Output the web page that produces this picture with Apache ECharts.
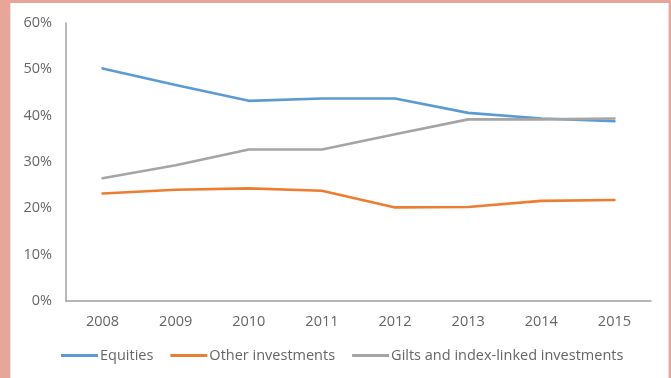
<!DOCTYPE html>
<html>
<head>
<meta charset="utf-8">
<script src="https://cdn.jsdelivr.net/npm/echarts@6/dist/echarts.min.js"></script>
<style>
  html, body { margin: 0; padding: 0; width: 671px; height: 378px; overflow: hidden; background: #ffffff; }
  #bg { position: absolute; left: 0; top: 0; width: 671px; height: 378px; background: #e8a699; }
  #panel { position: absolute; left: 10px; top: 3px; width: 657px; height: 375px; background: #ffffff; border-left: 1px solid #e4e4e4; border-right: 1px solid #e4e4e4; }
  #chart { position: absolute; left: 0; top: 0; width: 671px; height: 378px; }
</style>
</head>
<body>
<div id="bg"></div>
<div id="panel"></div>
<div id="chart"></div>
<script>
const years = ['2008', '2009', '2010', '2011', '2012', '2013', '2014', '2015'];
const equities = [50.2, 46.6, 43.2, 43.7, 43.7, 40.6, 39.4, 38.8];
const otherInvestments = [23.2, 24.0, 24.3, 23.8, 20.2, 20.3, 21.6, 21.8];
const gilts = [26.5, 29.3, 32.7, 32.7, 36.0, 39.2, 39.2, 39.4];
const yTicks = [0, 10, 20, 30, 40, 50, 60];

const chart = echarts.init(document.getElementById('chart'), null, { renderer: 'canvas' });
const font = '"Open Sans", "Liberation Sans", sans-serif';
const txt = '#666666';

function lineSeries(name, data, color) {
  return {
    name: name,
    type: 'line',
    data: data,
    symbol: 'none',
    smooth: false,
    lineStyle: { color: color, width: 2.6, cap: 'round', join: 'round' },
    itemStyle: { color: color }
  };
}

chart.setOption({
  backgroundColor: 'transparent',
  animation: false,
  grid: { left: 66, right: 20, top: 23, bottom: 77 },
  xAxis: {
    type: 'category',
    data: years,
    boundaryGap: true,
    axisLine: { lineStyle: { color: '#a0a0a0', width: 1.5 } },
    axisTick: { show: false },
    axisLabel: { color: txt, fontFamily: font, fontSize: 14.5, margin: 13 }
  },
  yAxis: {
    type: 'value',
    min: yTicks[0],
    max: yTicks[yTicks.length - 1],
    interval: 10,
    axisLine: { show: true, lineStyle: { color: '#a0a0a0', width: 1.5 } },
    axisTick: { show: false },
    splitLine: { show: false },
    axisLabel: { color: txt, fontFamily: font, fontSize: 14.5, margin: 14, formatter: v => v + '%' }
  },
  legend: {
    bottom: 10,
    left: 56,
    itemWidth: 37,
    itemHeight: 3,
    itemGap: 17,
    icon: 'rect',
    textStyle: { color: txt, fontFamily: font, fontSize: 14.5, padding: [0, 0, 0, -3] },
    data: ['Equities', 'Other investments', 'Gilts and index-linked investments']
  },
  series: [
    lineSeries('Equities', equities, '#5b9bd5'),
    lineSeries('Other investments', otherInvestments, '#ed7d31'),
    lineSeries('Gilts and index-linked investments', gilts, '#a5a5a5')
  ]
});
</script>
</body>
</html>
